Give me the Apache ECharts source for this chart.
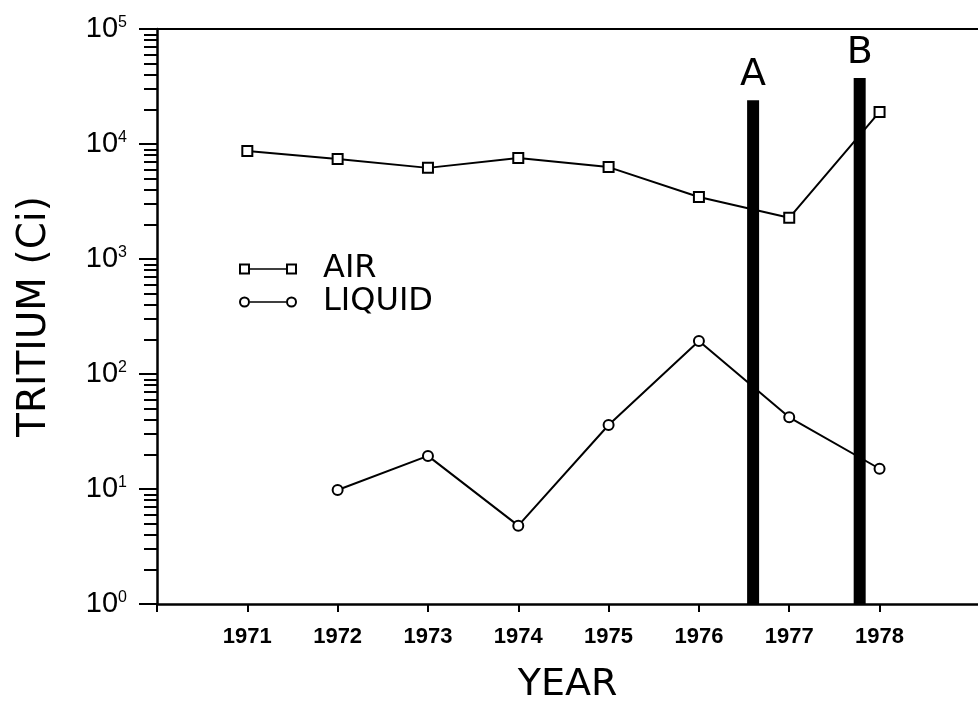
<!DOCTYPE html>
<html><head><meta charset="utf-8">
<script src="https://cdn.jsdelivr.net/npm/echarts@6/dist/echarts.min.js"></script>
<style>html,body{margin:0;padding:0;background:#fff}#c{width:978px;height:706px}</style>
</head><body><div id="c"></div>
<script>
// ---- data ----
const airYears = [1971, 1972, 1973, 1974, 1975, 1976, 1977, 1978];
const airValues = [8700, 7400, 6200, 7550, 6300, 3460, 2280, 19000];
const liquidYears = [1972, 1973, 1974, 1975, 1976, 1977, 1978];
const liquidValues = [9.8, 19.4, 4.8, 36, 194, 42, 15];
const eventLabels = ['A', 'B'];
const eventYears = [1976.6, 1977.78];
const eventTops = [24000, 37500];
const xTickValues = [1970, 1971, 1972, 1973, 1974, 1975, 1976, 1977, 1978];
const xLabelValues = [1971, 1972, 1973, 1974, 1975, 1976, 1977, 1978];
const yMajorValues = [1, 10, 100, 1000, 10000, 100000];
const yMinorValues = [2,3,4,5,6,7,8,9, 20,30,40,50,60,70,80,90, 200,300,400,500,600,700,800,900,
  2000,3000,4000,5000,6000,7000,8000,9000, 20000,30000,40000,50000,60000,70000,80000,90000];

const airIcon = 'path://M0 0L11 0L11 11L0 11Z M2 2L2 9L9 9L9 2Z M11 4.7L47 4.7L47 6.3L11 6.3Z M47 0L58 0L58 11L47 11Z M49 2L49 9L56 9L56 2Z';
const liqIcon = 'path://M0 5.5A5.5 5.5 0 1 1 11 5.5A5.5 5.5 0 1 1 0 5.5Z M2 5.5A3.5 3.5 0 1 0 9 5.5A3.5 3.5 0 1 0 2 5.5Z M11 4.7L47 4.7L47 6.3L11 6.3Z M47 5.5A5.5 5.5 0 1 1 58 5.5A5.5 5.5 0 1 1 47 5.5Z M49 5.5A3.5 3.5 0 1 0 56 5.5A3.5 3.5 0 1 0 49 5.5Z';

const chart = echarts.init(document.getElementById('c'), null, {renderer: 'canvas'});
const black = '#000';
chart.setOption({
  animation: false,
  backgroundColor: '#fff',
  grid: {left: 157, right: 0, top: 29, bottom: 102, containLabel: false, outerBoundsMode: 'none'},
  legend: {
    orient: 'vertical', left: 239, top: 253, itemWidth: 58, itemHeight: 11, itemGap: 1,
    selectedMode: false, padding: 0,
    textStyle: {fontFamily: 'DejaVu Sans', fontSize: 32, color: black, padding: [0, 0, 0, 21]},
    itemStyle: {color: black, borderWidth: 0},
    data: [{name: 'AIR', icon: airIcon}, {name: 'LIQUID', icon: liqIcon}]
  },
  xAxis: [{
    type: 'value', min: 1970, max: 1979.09, position: 'bottom',
    axisLine: {show: true, lineStyle: {color: black, width: 2.5}},
    axisTick: {show: true, customValues: xTickValues, length: 8, inside: false, lineStyle: {color: black, width: 2}},
    axisLabel: {
      customValues: xLabelValues, margin: 22, color: black,
      fontFamily: 'Liberation Sans', fontWeight: 'bold', fontSize: 22,
      formatter: function (v) { return String(v); }
    },
    splitLine: {show: false},
    name: 'YEAR', nameLocation: 'middle', nameGap: 62,
    nameTextStyle: {fontFamily: 'DejaVu Sans', fontSize: 38, color: black}
  }, {
    type: 'value', min: 1970, max: 1979.09, position: 'top',
    axisLine: {show: true, lineStyle: {color: black, width: 2}},
    axisTick: {show: false}, axisLabel: {show: false}, splitLine: {show: false}
  }],
  yAxis: [{
    type: 'log', logBase: 10, min: 1, max: 100000, position: 'left',
    axisLine: {show: true, lineStyle: {color: black, width: 2.5}},
    axisTick: {show: true, customValues: yMajorValues, length: 18, lineStyle: {color: black, width: 2}},
    axisLabel: {
      customValues: yMajorValues, margin: 30, color: black,
      fontFamily: 'Liberation Sans', fontSize: 28,
      formatter: function (v) { return '{b|10}{s|' + Math.round(Math.log10(v)) + '}'; },
      rich: {
        b: {fontFamily: 'Liberation Sans', fontSize: 29, color: black},
        s: {fontFamily: 'Liberation Sans', fontSize: 16, color: black, verticalAlign: 'top'}
      }
    },
    splitLine: {show: false},
    name: 'TRITIUM (Ci)', nameLocation: 'middle', nameGap: 103,
    nameTextStyle: {fontFamily: 'DejaVu Sans', fontSize: 39, color: black}
  }, {
    type: 'log', logBase: 10, min: 1, max: 100000, position: 'left',
    axisLine: {show: false},
    axisTick: {show: true, customValues: yMinorValues, length: 13, lineStyle: {color: black, width: 2}},
    axisLabel: {show: false}, splitLine: {show: false}
  }],
  series: [{
    name: 'AIR', type: 'line', xAxisIndex: 0, yAxisIndex: 0,
    data: airYears.map((y, i) => [y, airValues[i]]),
    symbol: 'emptyRect', symbolSize: 10,
    lineStyle: {color: black, width: 2},
    itemStyle: {color: black, borderWidth: 2}
  }, {
    name: 'LIQUID', type: 'line', xAxisIndex: 0, yAxisIndex: 0,
    data: liquidYears.map((y, i) => [y, liquidValues[i]]),
    symbol: 'emptyCircle', symbolSize: 10,
    lineStyle: {color: black, width: 2},
    itemStyle: {color: black, borderWidth: 2}
  }, {
    name: 'events', type: 'custom', xAxisIndex: 0, yAxisIndex: 0,
    data: eventYears.map((x, i) => [x, eventTops[i]]),
    encode: {x: 0, y: 1},
    renderItem: function (params, api) {
      const top = api.coord([api.value(0), api.value(1)]);
      const base = api.coord([api.value(0), 1]);
      const w = 12;
      return {
        type: 'group',
        children: [{
          type: 'rect',
          shape: {x: top[0] - w / 2, y: top[1], width: w, height: base[1] - top[1]},
          style: {fill: black}
        }, {
          type: 'text',
          style: {
            text: eventLabels[params.dataIndex], x: top[0], y: top[1] - 6,
            align: 'center', verticalAlign: 'bottom',
            font: '38px "DejaVu Sans"', fill: black
          }
        }]
      };
    }
  }]
});
</script></body></html>
